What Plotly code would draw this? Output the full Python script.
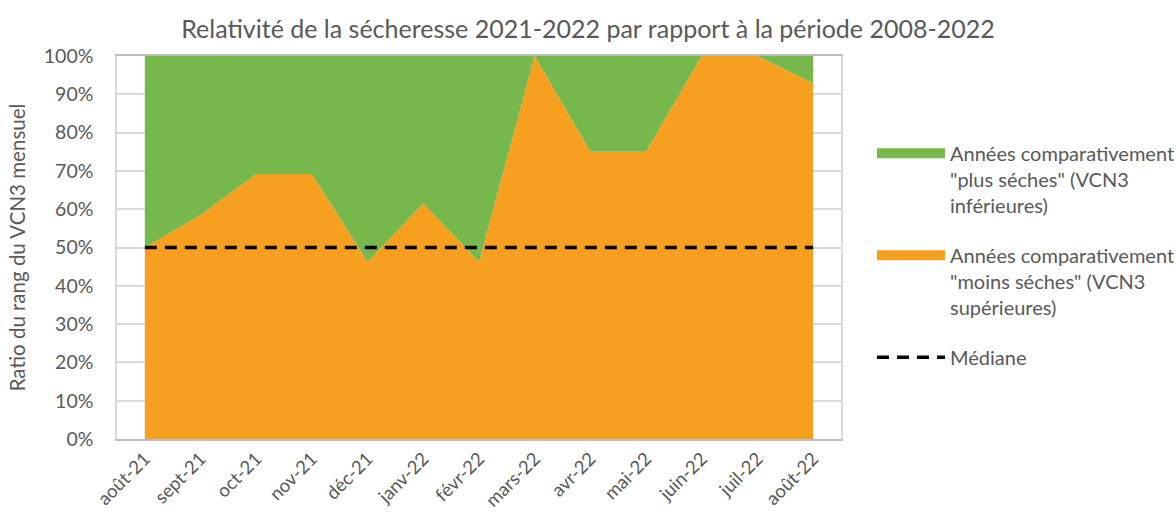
import plotly.graph_objects as go

mois = ["août-21", "sept-21", "oct-21", "nov-21", "déc-21", "janv-22", "févr-22",
        "mars-22", "avr-22", "mai-22", "juin-22", "juil-22", "août-22"]
moins_seches = [0.50, 0.585, 0.692, 0.692, 0.462, 0.615, 0.462,
                1.00, 0.75, 0.75, 1.00, 1.00, 0.929]
plus_seches = [0.50, 0.415, 0.308, 0.308, 0.538, 0.385, 0.538,
               0.00, 0.25, 0.25, 0.00, 0.00, 0.071]
mediane = [0.5] * 13

GREEN = "#76B84C"
ORANGE = "#F79F1E"
TXT = "#595959"
FONT = "Lato"

NAME_PLUS = 'Années comparativement<br>"plus séches" (VCN3<br>inférieures)'
NAME_MOINS = 'Années comparativement<br>"moins séches" (VCN3<br>supérieures)'

fig = go.Figure()
# legend entries for the two areas (Excel-like wide swatches)
fig.add_trace(go.Scatter(
    x=[None], y=[None], mode="lines", legendgroup="a",
    line=dict(color=GREEN, width=10), name=NAME_PLUS))
fig.add_trace(go.Scatter(
    x=[None], y=[None], mode="lines", legendgroup="b",
    line=dict(color=ORANGE, width=10), name=NAME_MOINS))
# stacked areas
fig.add_trace(go.Scatter(
    x=mois, y=moins_seches, stackgroup="one", mode="none",
    fillcolor=ORANGE, line=dict(width=0), legendgroup="b",
    name=NAME_MOINS, showlegend=False))
fig.add_trace(go.Scatter(
    x=mois, y=plus_seches, stackgroup="one", mode="none",
    fillcolor=GREEN, line=dict(width=0), legendgroup="a",
    name=NAME_PLUS, showlegend=False))
fig.add_trace(go.Scatter(
    x=mois, y=mediane, mode="lines", legendgroup="c",
    line=dict(color="black", width=3.5, dash="12px,8px"),
    name="Médiane"))

fig.update_layout(
    width=1176, height=522,
    paper_bgcolor="white", plot_bgcolor="white",
    margin=dict(l=117, r=335, t=56, b=83),
    font=dict(family=FONT, color=TXT, size=19),
    title=dict(text="Relativité de la sécheresse 2021-2022 par rapport à la période 2008-2022",
               x=0.5, xanchor="center", y=0.96, yanchor="top",
               font=dict(size=25, color=TXT, family=FONT)),
    showlegend=True,
    legend=dict(xref="container", yref="container",
                x=0.7415, y=0.744, xanchor="left", yanchor="top",
                traceorder="grouped", valign="top",
                font=dict(size=20, color=TXT, family=FONT),
                tracegroupgap=21, itemwidth=68, bgcolor="rgba(0,0,0,0)"),
)
fig.update_xaxes(
    type="category", range=[-0.5, 12.5], tickangle=-45, automargin=False,
    showline=True, linecolor="#BFBFBF", linewidth=1.5, mirror=True,
    showgrid=False, ticks="", tickfont=dict(size=18.5, color=TXT))
fig.update_yaxes(
    range=[0, 1], dtick=0.1, tickformat=".0%", automargin=False,
    showline=True, linecolor="#D9D9D9", linewidth=1.5, mirror=True,
    gridcolor="#D9D9D9", gridwidth=1.5, zeroline=False, ticks="",
    ticklabelstandoff=18,
    tickfont=dict(size=19.5, color=TXT),
    title=dict(text="Ratio du rang du VCN3 mensuel", font=dict(size=20.5, color=TXT),
               standoff=13))

fig.write_html("out.html", config={"displayModeBar": False},
               post_script="document.body.style.margin='0';")
